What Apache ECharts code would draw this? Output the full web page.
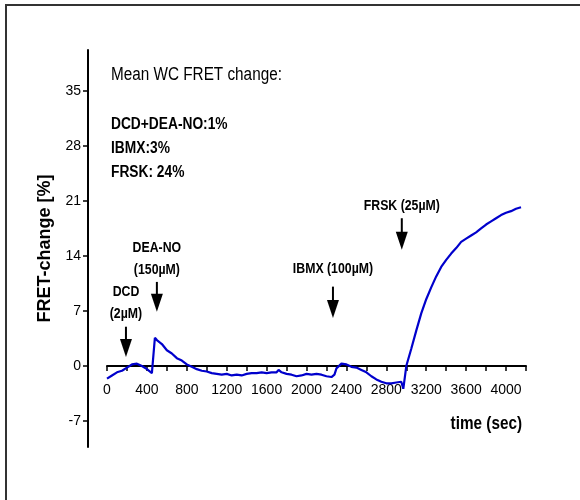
<!DOCTYPE html>
<html>
<head>
<meta charset="utf-8">
<script src="https://cdn.jsdelivr.net/npm/echarts@6/dist/echarts.min.js"></script>
<style>
  html, body { margin: 0; padding: 0; background: #fff; }
  #main { width: 580px; height: 500px; }
</style>
</head>
<body>
<div id="main"></div>
<script>
/* FRET trace: time (sec) and change (%) */
var times = [0, 50, 100, 150, 200, 250, 300, 350, 400, 450, 470, 480,
  500, 550, 600, 650, 700, 750, 800, 850, 900, 950, 1000, 1050, 1100, 1150,
  1200, 1250, 1300, 1350, 1400, 1450, 1500, 1550, 1600, 1650, 1700, 1720, 1750,
  1800, 1850, 1900, 1950, 2000, 2050, 2100, 2150, 2200, 2250, 2280, 2300, 2350,
  2400, 2450, 2500, 2550, 2600, 2650, 2700, 2750, 2800, 2850, 2900, 2950, 2970,
  2990, 3000, 3050, 3100, 3150, 3200, 3250, 3300, 3350, 3400, 3450, 3500, 3550,
  3600, 3650, 3700, 3750, 3800, 3850, 3900, 3950, 4000, 4050, 4100, 4150];
var fret = [-1.6, -1.2, -0.8, -0.6, -0.2, 0.2, 0.3, 0.0, -0.4, -0.9, -1.0, 3.6,
  3.3, 2.8, 2.0, 1.6, 1.0, 0.7, 0.2, -0.1, -0.4, -0.6, -0.7, -0.9, -1.0, -1.1,
  -1.0, -1.2, -1.1, -1.2, -1.0, -0.9, -0.9, -0.8, -0.9, -0.8, -0.8, -0.5, -0.8,
  -1.0, -1.1, -1.3, -1.2, -1.0, -1.1, -1.0, -1.1, -1.3, -1.4, -1.1, -0.3, 0.3,
  0.2, -0.1, -0.2, -0.5, -0.8, -1.3, -1.7, -2.0, -2.2, -2.2, -2.1, -2.0, -2.9,
  -1.0, 0.0, 2.2, 4.5, 6.7, 8.5, 10.0, 11.4, 12.6, 13.5, 14.3, 15.0, 15.8,
  16.2, 16.6, 17.0, 17.5, 18.0, 18.4, 18.8, 19.2, 19.5, 19.7, 20.0, 20.2];

/* axis ticks */
var xTicks = [0, 200, 400, 600, 800, 1000, 1200, 1400, 1600, 1800, 2000, 2200,
  2400, 2600, 2800, 3000, 3200, 3400, 3600, 3800, 4000, 4200];
var xLabels = [0, 400, 800, 1200, 1600, 2000, 2400, 2800, 3200, 3600, 4000];
var yTicks = [-7, 0, 7, 14, 21, 28, 35];

/* drug additions: arrow time, arrow top, arrow tip (in %) */
var drugLabels = ['DCD\n(2µM)', 'DEA-NO\n(150µM)', 'IBMX (100µM)', 'FRSK (25µM)'];
var drugTimes = [190, 500, 2265, 2955];
var arrowTop = [5.0, 10.7, 10.1, 18.8];
var arrowTip = [1.15, 6.9, 6.1, 14.8];

var statLines = ['DCD+DEA-NO:1%', 'IBMX:3%', 'FRSK: 24%'];

var sans = "'Liberation Sans', Arial, sans-serif";

var myChart = echarts.init(document.getElementById('main'), null, {renderer: 'canvas'});
var option = {
  animation: false,
  backgroundColor: '#fff',
  grid: { left: 107, right: 54, top: 50, bottom: 53, containLabel: false },
  xAxis: {
    type: 'value',
    min: 0, max: 4200,
    position: 'bottom',
    axisLine: { onZero: false, lineStyle: { color: '#000', width: 2 } },
    axisTick: { customValues: xTicks, length: 5, lineStyle: { color: '#000', width: 1.5 } },
    axisLabel: { customValues: xLabels, margin: 17, color: '#000', fontSize: 14, fontFamily: sans,
      formatter: function (v) { return String(v); } },
    splitLine: { show: false }
  },
  yAxis: {
    type: 'value',
    min: -10.3, max: 40.2,
    offset: 19,
    name: 'FRET-change [%]',
    nameLocation: 'middle',
    nameGap: 24,
    nameTextStyle: { color: '#000', fontSize: 18, fontWeight: 'bold', fontFamily: sans },
    axisLine: { show: true, onZero: false, lineStyle: { color: '#000', width: 2 } },
    axisTick: { customValues: yTicks, length: 5, lineStyle: { color: '#000', width: 1.5 } },
    axisLabel: { customValues: yTicks, margin: 7, color: '#000', fontSize: 14, fontFamily: sans },
    splitLine: { show: false }
  },
  series: [{
    type: 'line',
    showSymbol: false,
    data: times.map(function (t, i) { return [t, fret[i]]; }),
    lineStyle: { color: '#0000cc', width: 2.2 },
    z: 5
  }]
};
myChart.setOption(option);

/* move the x axis up onto y = 0 */
var zeroY = myChart.convertToPixel({gridIndex: 0}, [0, 0])[1];
myChart.setOption({ xAxis: { offset: -(500 - 53 - zeroY) } });

/* frame, text block and arrows */
var g = [
  { type: 'rect', shape: { x: 6, y: 5, width: 700, height: 700 },
    style: { fill: null, stroke: '#333', lineWidth: 2 }, silent: true },
  { type: 'text', x: 111, y: 75, scaleX: 0.85, style: { text: 'Mean WC FRET change:', font: '18px ' + sans,
    fill: '#000', textVerticalAlign: 'middle' } },
  { type: 'text', x: 522, y: 424, scaleX: 0.85, style: { text: 'time (sec)', font: 'bold 18px ' + sans,
    fill: '#000', textAlign: 'right', textVerticalAlign: 'middle' } }
];
statLines.forEach(function (s, i) {
  g.push({ type: 'text', x: 111, y: 125 + i * 24, scaleX: 0.86, style: { text: s, font: 'bold 16px ' + sans,
    fill: '#000', textVerticalAlign: 'middle' } });
});
var labelGap = [2, 1, 7, 1];
drugTimes.forEach(function (t, i) {
  var top = myChart.convertToPixel({gridIndex: 0}, [t, arrowTop[i]]);
  var tip = myChart.convertToPixel({gridIndex: 0}, [t, arrowTip[i]]);
  var headH = 18;
  g.push({ type: 'line', shape: { x1: top[0], y1: top[1], x2: tip[0], y2: tip[1] - headH + 2 },
    style: { stroke: '#000', lineWidth: 2 } });
  g.push({ type: 'polygon', shape: { points: [[tip[0] - 6, tip[1] - headH], [tip[0] + 6, tip[1] - headH], [tip[0], tip[1]]] },
    style: { fill: '#000' } });
  g.push({ type: 'text', x: top[0], y: top[1] - labelGap[i], scaleX: 0.82,
    style: { text: drugLabels[i], font: 'bold 15px ' + sans,
      fill: '#000', textAlign: 'center', textVerticalAlign: 'bottom', lineHeight: 22 } });
});
myChart.setOption({ graphic: g });
</script>
</body>
</html>
